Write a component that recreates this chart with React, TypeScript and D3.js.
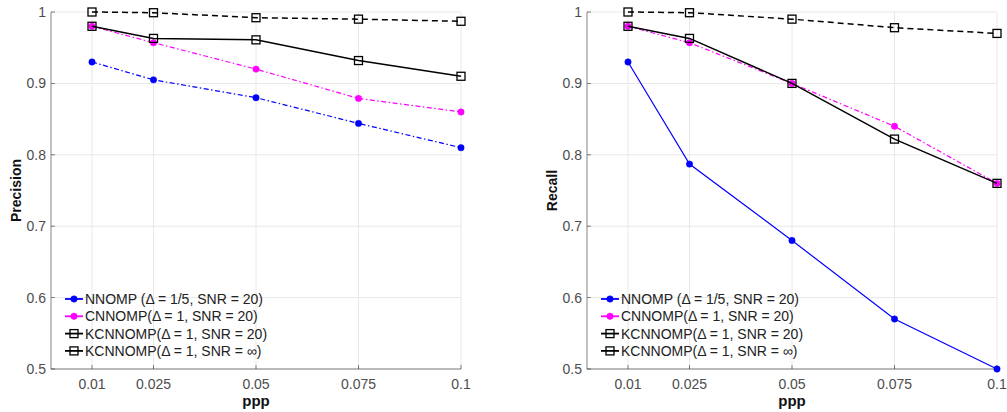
import React from "react";
import * as d3 from "d3";

// Points-per-particle values on the horizontal axis
const ppp = [0.01, 0.025, 0.05, 0.075, 0.1];
const xTickLabels = ["0.01", "0.025", "0.05", "0.075", "0.1"];
const yTicks = [0.5, 0.6, 0.7, 0.8, 0.9, 1];

// Precision
const precNNOMP = [0.93, 0.905, 0.88, 0.844, 0.81];
const precCNNOMP = [0.98, 0.957, 0.92, 0.879, 0.86];
const precKCN20 = [0.98, 0.963, 0.961, 0.932, 0.91];
const precKCNInf = [1.0, 0.999, 0.992, 0.99, 0.987];

// Recall
const recNNOMP = [0.93, 0.787, 0.68, 0.57, 0.5];
const recCNNOMP = [0.98, 0.957, 0.9, 0.84, 0.76];
const recKCN20 = [0.98, 0.963, 0.9, 0.822, 0.76];
const recKCNInf = [1.0, 0.999, 0.99, 0.978, 0.97];

const legendLabels = [
  "NNOMP (Δ = 1/5, SNR = 20)",
  "CNNOMP(Δ = 1, SNR = 20)",
  "KCNNOMP(Δ = 1, SNR = 20)",
  "KCNNOMP(Δ = 1, SNR = ∞)",
];

type Style = {
  color: string;
  width: number;
  dash: string;
  marker: "circle" | "square";
};

const FONT = "'Liberation Sans', Arial, sans-serif";
const AXIS = "#262626";

function Marker({ x, y, s }: { x: number; y: number; s: Style }) {
  if (s.marker === "circle") {
    return <circle cx={x} cy={y} r={3.2} fill={s.color} stroke={s.color} strokeWidth={0.5} />;
  }
  return (
    <rect x={x - 4} y={y - 4} width={8} height={8} fill="none" stroke={s.color} strokeWidth={1.3} />
  );
}

function Panel({
  left,
  yLabel,
  series,
  styles,
}: {
  left: number;
  yLabel: string;
  series: number[][];
  styles: Style[];
}) {
  const x0 = left;
  const x1 = left + 410;
  const yTop = 12;
  const yBot = 369;
  const x = d3.scaleLinear().domain([0, 0.1]).range([x0, x1]);
  const y = d3.scaleLinear().domain([0.5, 1]).range([yBot, yTop]);
  const line = d3
    .line<number>()
    .x((_, i) => x(ppp[i]))
    .y((d) => y(d));

  return (
    <g>
      {/* grid */}
      {ppp.map((t) => (
        <line key={"gx" + t} x1={x(t)} x2={x(t)} y1={yTop} y2={yBot} stroke="#e8e8e8" strokeWidth={1} />
      ))}
      {yTicks.map((t) => (
        <line key={"gy" + t} x1={x0} x2={x1} y1={y(t)} y2={y(t)} stroke="#e8e8e8" strokeWidth={1} />
      ))}
      {/* axes */}
      <line x1={x0} x2={x0} y1={yTop} y2={yBot} stroke={AXIS} strokeWidth={0.8} opacity={0.7} />
      <line x1={x0} x2={x1} y1={yBot} y2={yBot} stroke={AXIS} strokeWidth={0.8} opacity={0.7} />
      {yTicks.map((t) => (
        <g key={"ty" + t}>
          <line x1={x0} x2={x0 + 4} y1={y(t)} y2={y(t)} stroke={AXIS} strokeWidth={0.8} opacity={0.7} />
          <text
            x={x0 - 5}
            y={y(t)}
            dy="0.35em"
            textAnchor="end"
            fontFamily={FONT}
            fontSize={14}
            fill="#4d4d4d"
          >
            {t === 1 ? "1" : t.toFixed(1)}
          </text>
        </g>
      ))}
      {ppp.map((t, i) => (
        <g key={"tx" + t}>
          <line x1={x(t)} x2={x(t)} y1={yBot} y2={yBot - 4} stroke={AXIS} strokeWidth={0.8} opacity={0.7} />
          <text
            x={x(t)}
            y={yBot + 20}
            textAnchor="middle"
            fontFamily={FONT}
            fontSize={14}
            fill="#4d4d4d"
          >
            {xTickLabels[i]}
          </text>
        </g>
      ))}
      <text
        x={(x0 + x1) / 2}
        y={yBot + 37}
        textAnchor="middle"
        fontFamily={FONT}
        fontSize={15}
        fontWeight="bold"
        fill="#111"
      >
        ppp
      </text>
      <text
        transform={`translate(${x0 - 30},${(yTop + yBot) / 2}) rotate(-90)`}
        textAnchor="middle"
        fontFamily={FONT}
        fontSize={14}
        fontWeight="bold"
        fill="#111"
      >
        {yLabel}
      </text>
      {/* series */}
      {series.map((vals, k) => (
        <g key={"s" + k}>
          <path
            d={line(vals) || ""}
            fill="none"
            stroke={styles[k].color}
            strokeWidth={styles[k].width}
            strokeDasharray={styles[k].dash}
          />
          {vals.map((v, i) => (
            <Marker key={i} x={x(ppp[i])} y={y(v)} s={styles[k]} />
          ))}
        </g>
      ))}
      {/* legend */}
      {legendLabels.map((lab, k) => {
        const ly = 299 + k * 17.3;
        const lx = x0 + 14;
        return (
          <g key={"l" + k}>
            <line x1={lx} x2={lx + 18} y1={ly} y2={ly} stroke={styles[k].color} strokeWidth={1.8} />
            <Marker x={lx + 9} y={ly} s={styles[k]} />
            <text x={lx + 20} y={ly} dy="0.35em" fontFamily={FONT} fontSize={14} fill="#222">
              {lab}
            </text>
          </g>
        );
      })}
    </g>
  );
}

export default function App() {
  const leftStyles: Style[] = [
    { color: "#0000ff", width: 1.2, dash: "5,2.5,1.5,2.5", marker: "circle" },
    { color: "#ff00ff", width: 1.2, dash: "5,2.5,1.5,2.5", marker: "circle" },
    { color: "#000000", width: 1.5, dash: "", marker: "square" },
    { color: "#000000", width: 1.5, dash: "6,4", marker: "square" },
  ];
  const rightStyles: Style[] = [
    { color: "#0000ff", width: 1.2, dash: "", marker: "circle" },
    { color: "#ff00ff", width: 1.2, dash: "5,2.5,1.5,2.5", marker: "circle" },
    { color: "#000000", width: 1.5, dash: "", marker: "square" },
    { color: "#000000", width: 1.5, dash: "6,4", marker: "square" },
  ];
  return (
    <svg
      width={1007}
      height={412}
      style={{ position: "absolute", left: 0, top: 0, background: "#fff" }}
    >
      <Panel
        left={51}
        yLabel="Precision"
        series={[precNNOMP, precCNNOMP, precKCN20, precKCNInf]}
        styles={leftStyles}
      />
      <Panel
        left={587}
        yLabel="Recall"
        series={[recNNOMP, recCNNOMP, recKCN20, recKCNInf]}
        styles={rightStyles}
      />
    </svg>
  );
}
